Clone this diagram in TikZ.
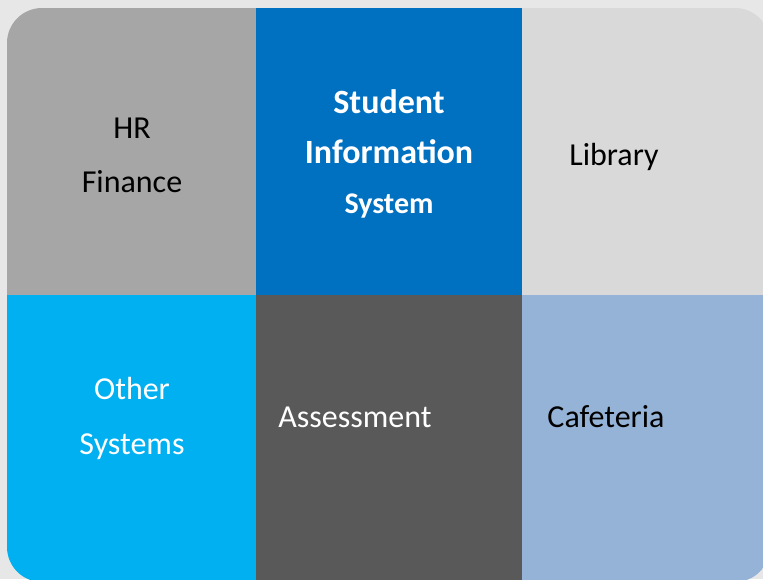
\documentclass[tikz,border=0pt]{standalone}
\usepackage{fontspec}
\setmainfont{Carlito}
\definecolor{bgc}{HTML}{E7E7E7}
\definecolor{cA}{HTML}{A6A6A6}
\definecolor{cB}{HTML}{0070C0}
\definecolor{cC}{HTML}{D9D9D9}
\definecolor{cD}{HTML}{00B0F0}
\definecolor{cE}{HTML}{595959}
\definecolor{cF}{HTML}{95B3D7}
\tikzset{
  lbl/.style={anchor=base, inner sep=0pt, font=\fontsize{32}{38}\selectfont},
  lblb/.style={lbl, font=\fontsize{34}{40}\selectfont\bfseries},
}
\begin{document}
\begin{tikzpicture}[x=1pt,y=-1pt]
\fill[bgc] (0,0) rectangle (763,579);
\useasboundingbox (0,0) rectangle (763,579);
\begin{scope}
\clip[rounded corners=35pt] (7,8) rectangle (770,582);
\fill[cA] (7,8) rectangle (256,295);
\fill[cB] (256,8) rectangle (522,295);
\fill[cC] (522,8) rectangle (770,295);
\fill[cD] (7,295) rectangle (256,582);
\fill[cE] (256,295) rectangle (522,582);
\fill[cF] (522,295) rectangle (770,582);
\end{scope}
\node[lbl] (hr) at (132,138) {HR};
\node[lbl] (fin) at (132,192) {Finance};
\node[lblb, text=white] (stu) at (389,113) {Student};
\node[lblb, text=white] (inf) at (389,163) {Information};
\node[lblb, text=white, font=\fontsize{30}{36}\selectfont\bfseries] (sys) at (389,213) {System};
\node[lbl] (lib) at (614,165) {Library};
\node[lbl, text=white] (oth) at (132,399) {Other};
\node[lbl, text=white] (osy) at (132,454) {Systems};
\node[lbl, text=white] (ass) at (355,427) {Assessment};
\node[lbl] (caf) at (606,427) {Cafeteria};
\end{tikzpicture}
\end{document}
